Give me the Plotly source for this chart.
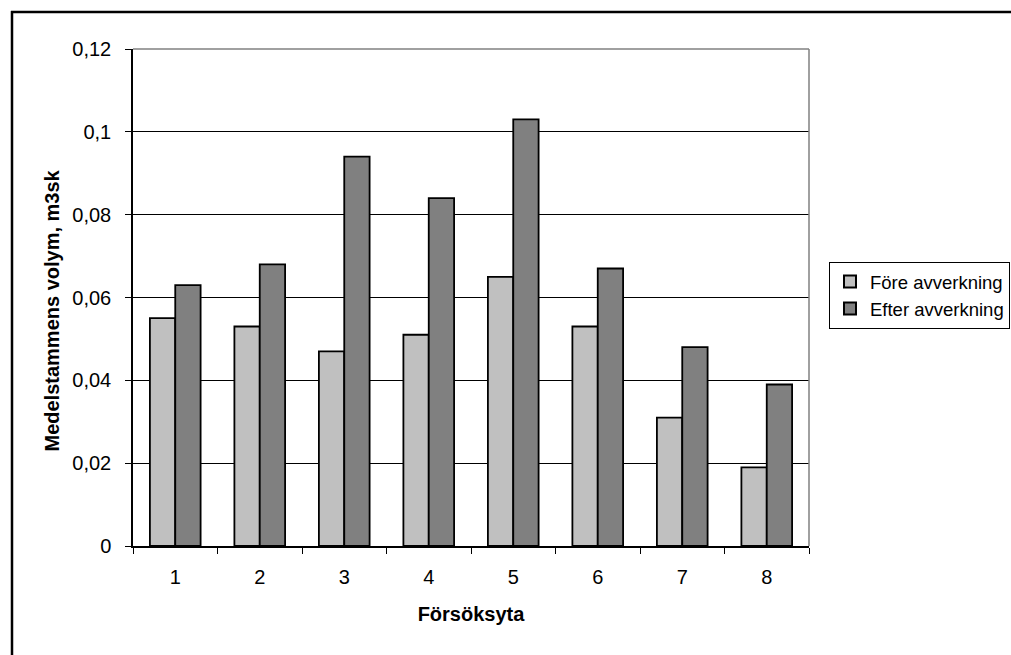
import plotly.graph_objects as go

categories = ["1", "2", "3", "4", "5", "6", "7", "8"]
fore = [0.055, 0.053, 0.047, 0.051, 0.065, 0.053, 0.031, 0.019]
efter = [0.063, 0.068, 0.094, 0.084, 0.103, 0.067, 0.048, 0.039]
series_names = ["Före avverkning", "Efter avverkning"]
x_title = "Försöksyta"
y_title = "Medelstammens volym, m3sk"

W, H = 1011, 655
L, R, T, B = 133, 809, 49, 546
pw, ph = R - L, B - T


def px(x):
    return (x - L) / pw


def py(y):
    return (B - y) / ph


FONT = "Liberation Sans, Arial, sans-serif"
fs = 20

fig = go.Figure()
fig.add_trace(go.Bar(x=categories, y=fore, name=series_names[0],
                     marker=dict(color="#C0C0C0", line=dict(color="black", width=1.8))))
fig.add_trace(go.Bar(x=categories, y=efter, name=series_names[1],
                     marker=dict(color="#808080", line=dict(color="black", width=1.8))))

fig.update_layout(
    width=W, height=H,
    margin=dict(l=L, r=W - R, t=T, b=H - B, autoexpand=False),
    paper_bgcolor="white", plot_bgcolor="white",
    separators=", ",
    barmode="group", bargap=0.4, bargroupgap=0,
    font=dict(family=FONT, size=fs, color="black"),
    showlegend=True,
    legend=dict(x=px(829), y=py(262), xanchor="left", yanchor="top",
                bordercolor="black", borderwidth=1, bgcolor="white",
                font=dict(family=FONT, size=18.5), tracegroupgap=0,
                itemwidth=30, itemsizing="constant"),
    xaxis=dict(showline=True, linecolor="black", linewidth=1.5,
               ticks="outside", ticklen=6, tickcolor="black", tickson="boundaries",
               showgrid=False, ticklabelstandoff=12,
               title=dict(text="<b>" + x_title + "</b>", standoff=20,
                          font=dict(family=FONT, size=fs)),
               mirror=False),
    yaxis=dict(range=[0, 0.12], dtick=0.02, showline=True, linecolor="black", linewidth=1.5,
               ticks="outside", ticklen=6, tickcolor="black",
               showgrid=True, gridcolor="black", gridwidth=1,
               zeroline=False, ticklabelstandoff=10),
)

# plot area border (top & right, gray)
fig.add_shape(type="line", xref="paper", yref="paper", x0=0, x1=1, y0=1, y1=1,
              line=dict(color="#808080", width=1.5))
fig.add_shape(type="line", xref="paper", yref="paper", x0=1, x1=1, y0=0, y1=1,
              line=dict(color="#808080", width=1.5))
# outer chart frame (top & left visible)
fig.add_shape(type="line", xref="paper", yref="paper", x0=px(11), x1=px(W + 20), y0=py(12), y1=py(12),
              line=dict(color="black", width=2.5))
fig.add_shape(type="line", xref="paper", yref="paper", x0=px(12), x1=px(12), y0=py(11), y1=py(H + 20),
              line=dict(color="black", width=2.5))

fig.add_annotation(text="<b>" + y_title + "</b>", xref="paper", yref="paper",
                   x=px(51.5), y=py(311), textangle=-90, showarrow=False,
                   font=dict(family=FONT, size=fs), xanchor="center", yanchor="middle")

fig.write_html("out.html")
